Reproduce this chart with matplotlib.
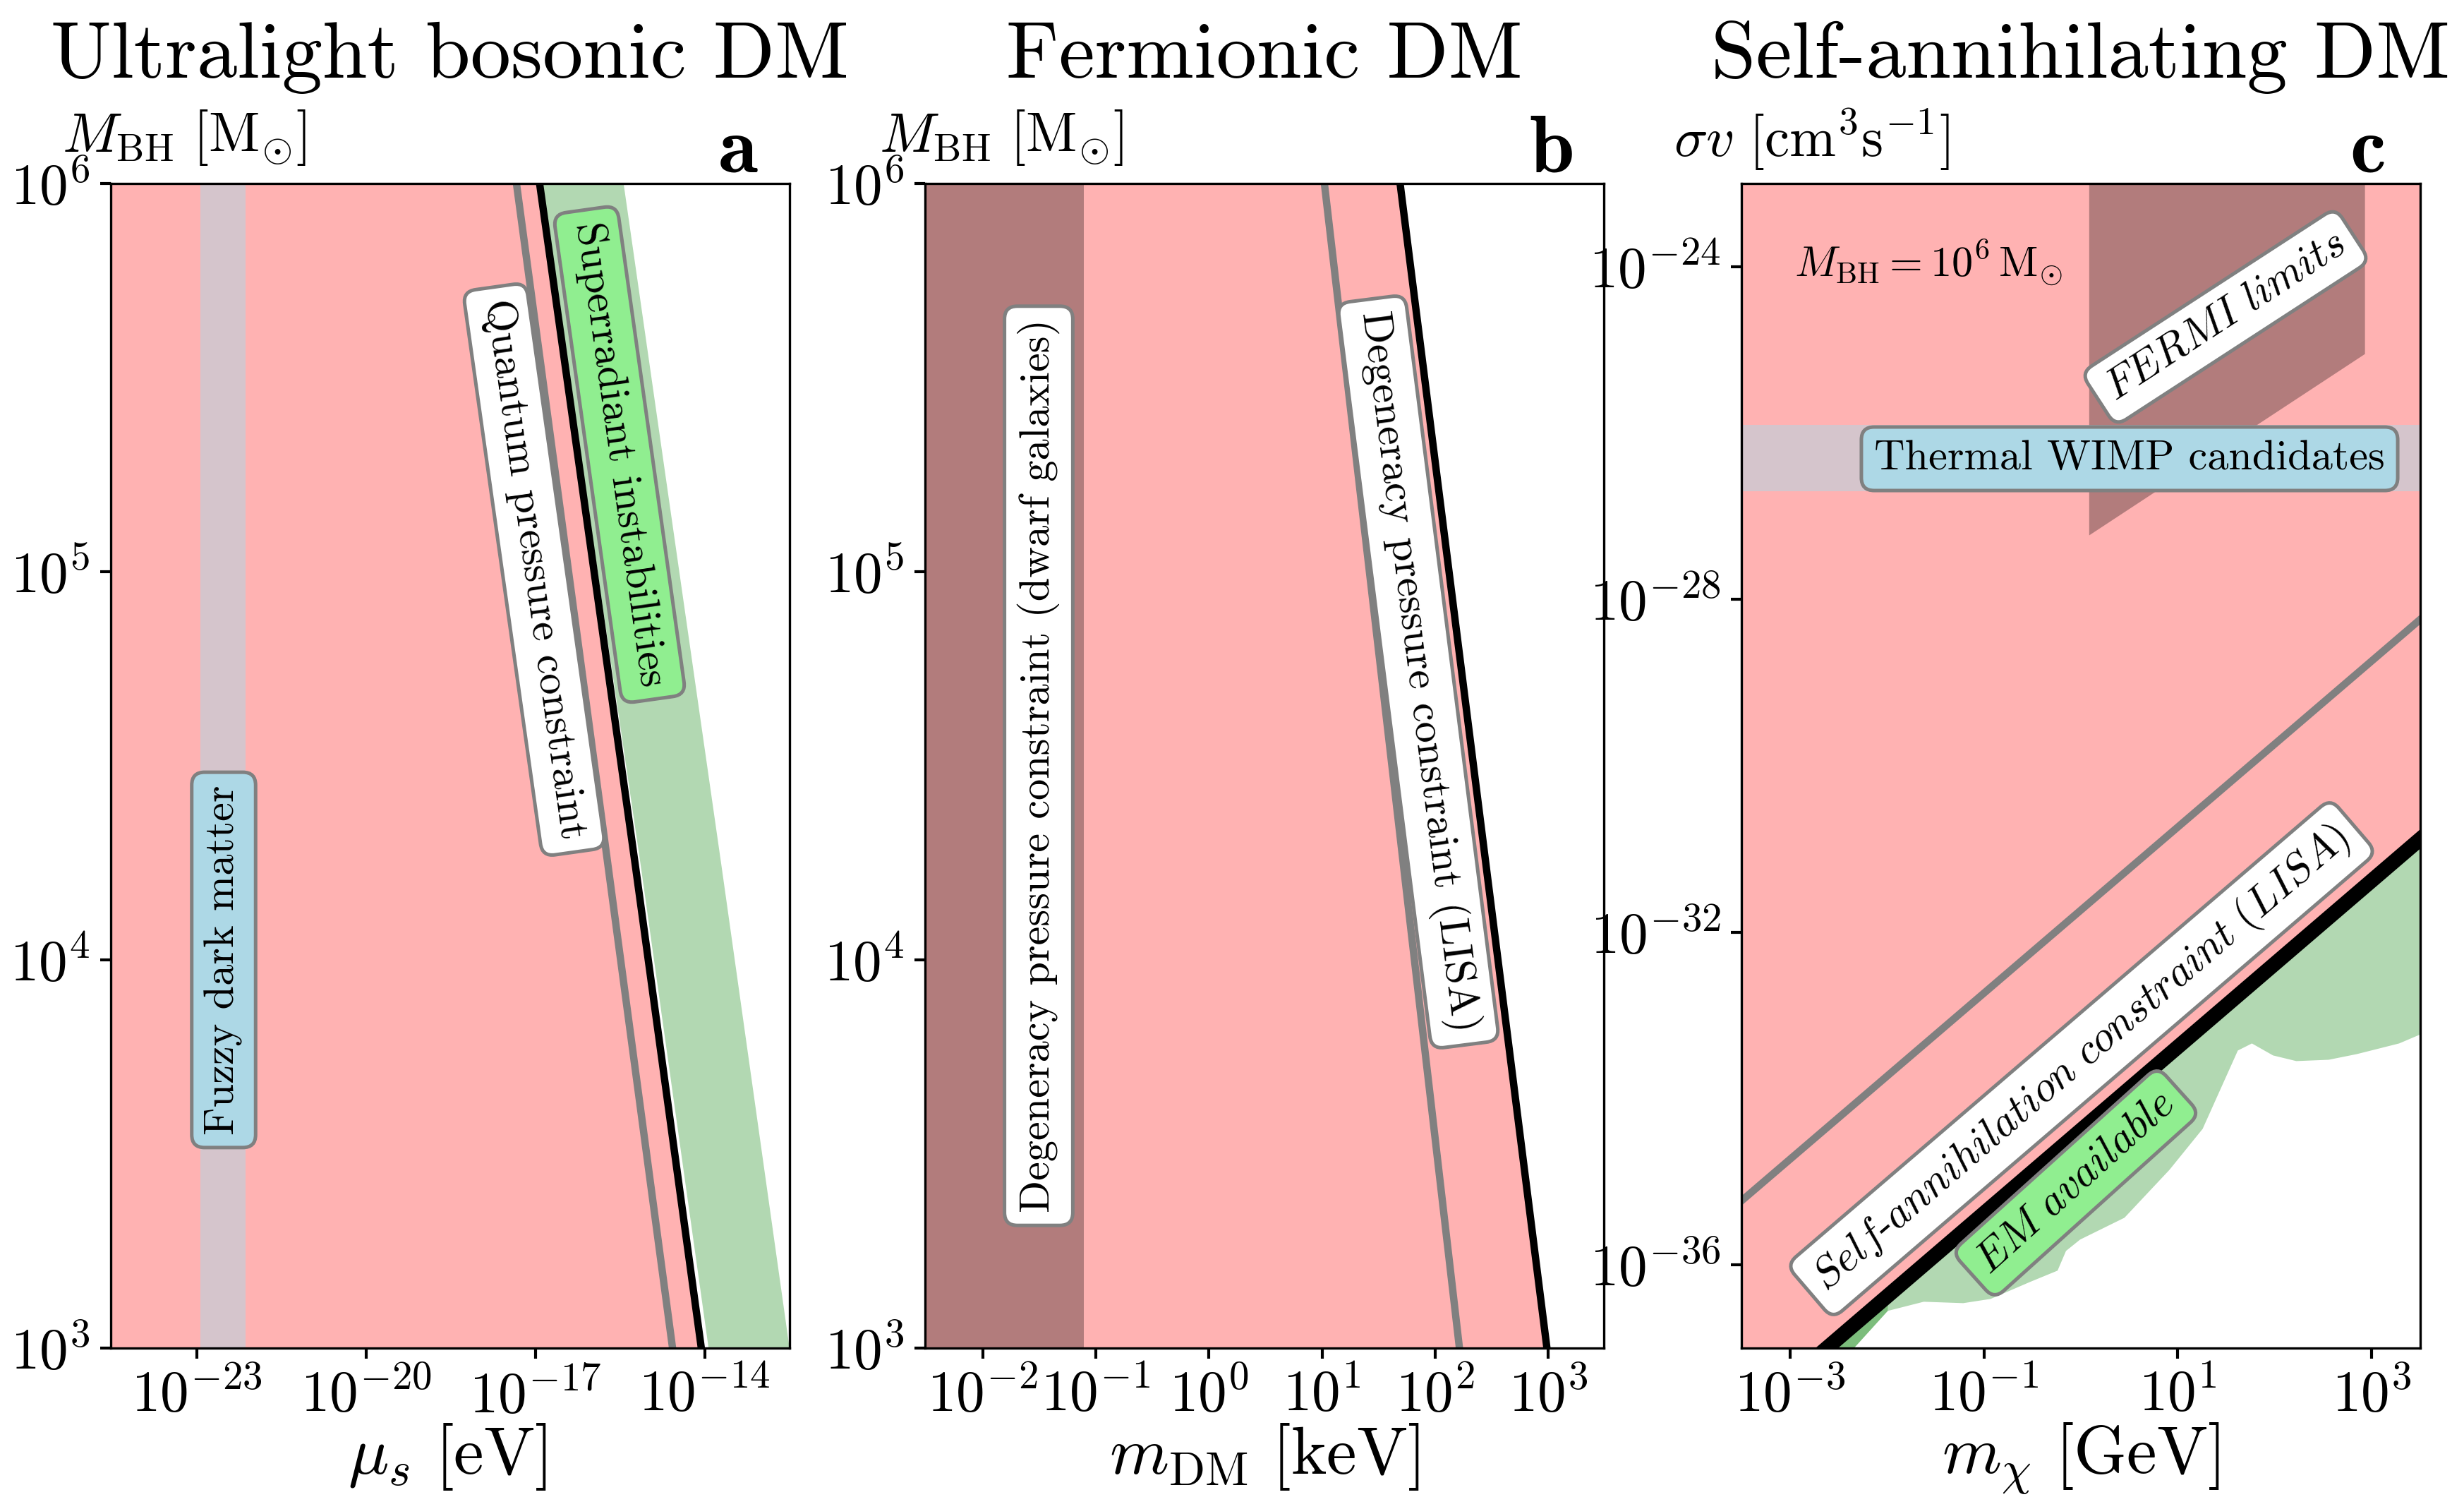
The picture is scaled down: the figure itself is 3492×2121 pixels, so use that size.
import numpy as np
import matplotlib
matplotlib.use("Agg")
import matplotlib.pyplot as plt

plt.rcParams['font.family'] = 'serif'
plt.rcParams['font.serif'] = ['cmr10']
plt.rcParams['mathtext.fontset'] = 'cm'
plt.rcParams['axes.formatter.use_mathtext'] = True
plt.rcParams['axes.unicode_minus'] = True

# ---------------- data ----------------
# Panel a: ultralight bosonic DM (M_BH vs mu_s)
a_M = [1e3, 1.76e4, 1e6]
a_quantum_mu = [2.70e-15, 1.93e-16, 4.63e-18]       # grey line
a_lisa_mu = [8.73e-15, 5.89e-16, 1.19e-17]          # black line
a_super_left_mu = [1.16e-14, 7.24e-16, 1.23e-17]    # superradiance band left
a_super_right_mu = [3.15e-13, 1.95e-14, 3.62e-16]   # superradiance band right
a_fuzzy = [1.15e-23, 7.4e-23]
a_xlim = [3e-25, 3.2e-13]
a_xticks = [1e-23, 1e-20, 1e-17, 1e-14]

# Panel b: fermionic DM (M_BH vs m_DM)
b_M = [1e3, 1e6]
b_quantum_m = [164.0, 10.5]
b_lisa_m = [973.0, 49.0]
b_dwarf = 0.0785
b_xlim = [3.1e-3, 3.1e3]
b_xticks = [1e-2, 1e-1, 1e0, 1e1, 1e2, 1e3]

# Panel c: self-annihilating DM (sigma v vs m_chi)
c_m_line = [10**-3.5, 10**3.5]
c_gray_sv = [10**-35.23, 10**-28.24]
c_lisa_sv = [10**-37.88, 10**-30.88]
c_green_m = [10**-3.5, 10**-2.339, 10**-1.991, 10**-1.620, 10**-1.213, 10**-0.930,
             10**-0.524, 10**-0.240, 10**-0.153, 10**-0.008, 10**0.450, 10**0.914,
             10**1.256, 10**1.619, 10**1.764, 10**1.982, 10**2.222, 10**2.556,
             10**2.846, 10**3.282, 10**3.5]
c_green_sv = [10**-38.0, 10**-37.0, 10**-36.553, 10**-36.443, 10**-36.460, 10**-36.409,
              10**-36.205, 10**-36.069, 10**-35.832, 10**-35.696, 10**-35.433, 10**-34.857,
              10**-34.365, 10**-33.423, 10**-33.338, 10**-33.482, 10**-33.550, 10**-33.534,
              10**-33.466, 10**-33.338, 10**-33.23]
c_overlap_m = [10**-3.5, 10**-2.339, 10**-1.991, 10**-1.991]
c_overlap_sv = [10**-38.0, 10**-37.0, 10**-36.553, 10**-36.371]
c_fermi_m = [10**0.086, 10**0.086, 10**2.93, 10**2.93]
c_fermi_sv = [1e-23, 10**-27.23, 10**-25.05, 1e-23]
c_wimp = [2.0e-27, 1.26e-26]
c_xlim = [10**-3.5, 10**3.5]
c_ylim = [1e-37, 1e-23]
c_xticks = [1e-3, 1e-1, 1e1, 1e3]
c_yticks = [1e-36, 1e-32, 1e-28, 1e-24]

PINK_ALPHA = 0.3
tick_fs = 19.5
label_fs = 23
title_fs = 27.5
box_fs = 14.5
ylab_fs = 19

fig = plt.figure(figsize=(11.64, 7.07), dpi=300)
W, H = 3492.0, 2121.0
def axpos(l):
    return [l / W, (H - 1910) / H, 962 / W, 1650 / H]

axa = fig.add_axes(axpos(157))
axb = fig.add_axes(axpos(1311))
axc = fig.add_axes(axpos(2468))

def box(fc):
    return dict(boxstyle='round,pad=0.3', fc=fc, ec='gray', lw=1.2)

def style(ax):
    ax.set_xscale('log')
    ax.set_yscale('log')
    ax.tick_params(which='major', direction='out', length=3.5, width=1, labelsize=tick_fs)

# ---------- Panel a ----------
ax = axa
style(ax)
ax.fill_betweenx(a_M, a_xlim[0], a_lisa_mu, color='red', alpha=PINK_ALPHA, lw=0)
ax.axvspan(a_fuzzy[0], a_fuzzy[1], color='lightblue', alpha=0.5, lw=0)
ax.fill_betweenx(a_M, a_super_left_mu, a_super_right_mu, color='green', alpha=0.3, lw=0)
ax.plot(a_quantum_mu, a_M, color='gray', lw=2.5)
ax.plot(a_lisa_mu, a_M, color='black', lw=2.5)
ax.set_xlim(a_xlim)
ax.set_ylim(1e3, 1e6)
ax.set_xticks(a_xticks)
ax.set_yticks([1e3, 1e4, 1e5, 1e6])
ax.minorticks_off()

# ---------- Panel b ----------
ax = axb
style(ax)
ax.fill_betweenx(b_M, b_xlim[0], b_lisa_m, color='red', alpha=PINK_ALPHA, lw=0)
ax.axvspan(b_xlim[0], b_dwarf, color='black', alpha=0.3, lw=0)
ax.plot(b_quantum_m, b_M, color='gray', lw=2.5)
ax.plot(b_lisa_m, b_M, color='black', lw=2.5)
ax.set_xlim(b_xlim)
ax.set_ylim(1e3, 1e6)
ax.set_xticks(b_xticks)
ax.set_yticks([1e3, 1e4, 1e5, 1e6])
ax.minorticks_off()

# ---------- Panel c ----------
ax = axc
style(ax)
ax.fill_between(c_m_line, c_lisa_sv, c_ylim[1], color='red', alpha=PINK_ALPHA, lw=0)
ax.fill(c_fermi_m, c_fermi_sv, color='black', alpha=0.3, lw=0)
ax.axhspan(c_wimp[0], c_wimp[1], color='lightblue', alpha=0.5, lw=0)
gx = list(c_green_m) + [c_m_line[1], c_m_line[0]]
gy = list(c_green_sv) + [c_lisa_sv[1], c_lisa_sv[0]]
ax.fill(gx, gy, color='green', alpha=0.3, lw=0)
ox = list(c_overlap_m) + [c_m_line[0]]
oy = list(c_overlap_sv) + [c_lisa_sv[0]]
ax.fill(ox, oy, color='green', alpha=0.3, lw=0)
ax.plot(c_m_line, c_gray_sv, color='gray', lw=2.5)
ax.plot(c_m_line, c_lisa_sv, color='black', lw=5)
ax.set_xlim(c_xlim)
ax.set_ylim(c_ylim)
ax.set_xticks(c_xticks)
ax.set_yticks(c_yticks)
ax.minorticks_off()

# ---------- Labels placed in pixel coordinates ----------
def fig_xy(px, py):
    return px / W, 1 - py / H

# titles
for cx, t in [(638, 'Ultralight bosonic DM'), (1792, 'Fermionic DM'), (2949, 'Self-annihilating DM')]:
    fig.text(*fig_xy(cx, 110), t, fontsize=title_fs, ha='center', va='baseline')
# panel letters
for rx, t in [(1075, 'a'), (2229, 'b'), (3380, 'c')]:
    fig.text(*fig_xy(rx, 243), r'$\mathbf{%s}$' % t, fontsize=title_fs, ha='right', va='baseline')
# x labels
for cx, t in [(634, r'$\mu_s\ [{\rm eV}]$'), (1792, r'$m_{\rm DM}\ [{\rm keV}]$'),
              (2949, r'$m_\chi\ [{\rm GeV}]$')]:
    fig.text(*fig_xy(cx, 2088), t, fontsize=label_fs, ha='center', va='baseline')
# y labels
fig.text(*fig_xy(88, 215), r'$M_{\rm BH}\ [{\rm M}_{\odot}]$', fontsize=ylab_fs, ha='left', va='baseline')
fig.text(*fig_xy(1246, 215), r'$M_{\rm BH}\ [{\rm M}_{\odot}]$', fontsize=ylab_fs, ha='left', va='baseline')
fig.text(*fig_xy(2372, 222), r'$\sigma v\ [{\rm cm}^3{\rm s}^{-1}]$', fontsize=ylab_fs, ha='left', va='baseline')

def ftext(px, py, s, rot, fc):
    fig.text(*fig_xy(px, py), s, rotation=rot, ha='center', va='center', fontsize=box_fs,
             rotation_mode='anchor', bbox=box(fc))

ftext(317, 1360, 'Fuzzy dark matter', 90, 'lightblue')
ftext(757, 807, 'Quantum pressure constraint', -82, 'white')
ftext(878, 644, 'Superradiant instabilities', -82, 'lightgreen')
ftext(1472, 1085, 'Degeneracy pressure constraint (dwarf galaxies)', 90, 'white')
ftext(2010, 952, 'Degeneracy pressure constraint (LISA)', -82.8, 'white')
ftext(3154, 449, r'$FERMI\ limits$', 33, 'white')
ftext(3018, 650, 'Thermal WIMP candidates', 0, 'lightblue')
ftext(2950, 1500, r'$Self$-$annihilation\ constraint\ (LISA)$', 40.6, 'white')
ftext(2942, 1676, r'$EM\ available$', 42, 'lightgreen')
fig.text(*fig_xy(2543, 372), r'$M_{\rm BH} = 10^6\,{\rm M}_{\odot}$', fontsize=box_fs,
         ha='left', va='center')

fig.savefig('out.png', dpi=300)
